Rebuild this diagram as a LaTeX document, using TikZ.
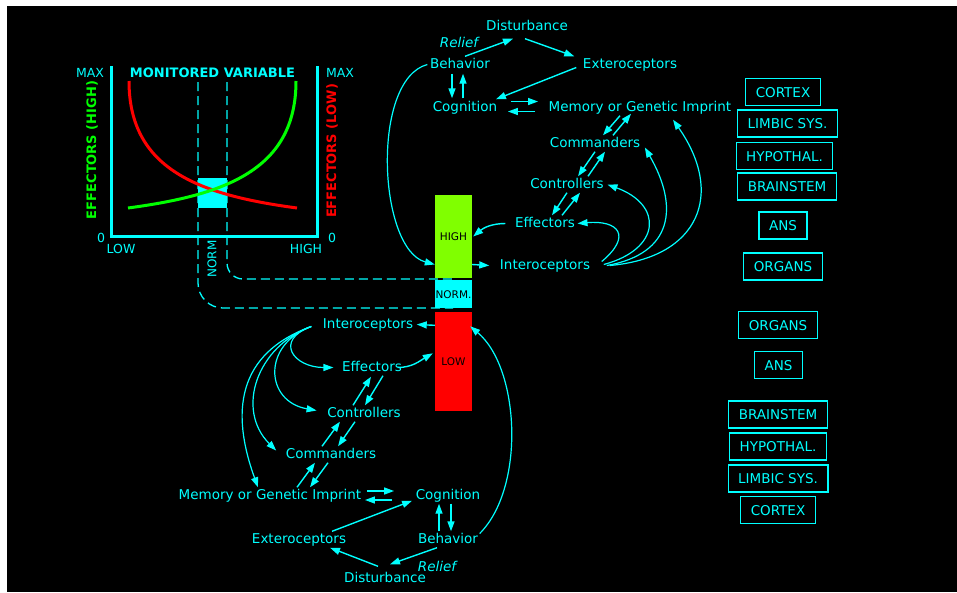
\documentclass[tikz,border=0pt]{standalone}
\usepackage{fontspec}
\setmainfont{DejaVu Sans}
\usepackage{tikz}
\usetikzlibrary{arrows.meta,positioning}
\definecolor{scrcyan}{HTML}{00FFFF}
\definecolor{effgreen}{HTML}{00FF00}
\definecolor{effred}{HTML}{FF0000}
\definecolor{hiband}{HTML}{80FF00}
\newcommand{\lblfont}{\fontsize{13.5}{16}\selectfont}
\newcommand{\barfont}{\fontsize{10.5}{12}\selectfont}
\tikzset{
  lbl/.style     = {text=scrcyan,font=\lblfont,anchor=base,inner sep=1.5pt,
                     text height=10pt,text depth=3pt},
  relief/.style  = {lbl,font=\lblfont\itshape},
  axlbl/.style   = {text=scrcyan,font=\fontsize{12.5}{14}\selectfont,anchor=base,
                     inner sep=1pt},
  sideway/.style = {rotate=90,font=\bfseries\fontsize{13}{15}\selectfont,inner sep=1pt},
  sysbox/.style  = {draw=scrcyan,line width=1.2pt,text=scrcyan,font=\lblfont,
                     inner xsep=10pt,minimum height=27pt,text height=10pt,
                     text depth=0pt},
  band/.style    = {minimum width=37pt,inner sep=0pt,font=\barfont,text=black},
  link/.style    = {-{Triangle[length=10pt,width=7pt]},draw=scrcyan,line width=1.4pt},
  feed/.style    = {link,line width=1.2pt},
  frameax/.style = {draw=scrcyan,line width=3pt},
  guide/.style   = {draw=scrcyan,line width=1.3pt,dash pattern=on 9pt off 5pt},
  trace/.style   = {line width=3pt},
}

\begin{document}
\begin{tikzpicture}[x=1pt,y=-1pt]
  \useasboundingbox (0,0) rectangle (957,592);
  \fill[white] (0,0) rectangle (957,592);
  \fill[black] (7,6) rectangle (957,592);

  % monitored variable chart
  \draw[guide,rounded corners=16pt] (227,82) |- (453,279);
  \draw[guide,rounded corners=25pt] (198,82) |- (453,308);
  \node[fill=scrcyan,minimum width=29pt,minimum height=30pt,inner sep=0pt]
        (normbox) at (212.5,193) {};
  \draw[trace,effred] (129,81) .. controls (129,170) and (200,195) .. (297,208);
  \draw[trace,effgreen] (128,208) .. controls (225,195) and (296,170) .. (296,81);
  \draw[frameax] (111,66) -- (111,236) -- (317,236) -- (317,66);
  \node[axlbl] (maxl) at (90,77) {MAX};
  \node[axlbl] (maxr) at (340,77) {MAX};
  \node[text=scrcyan,font=\bfseries\fontsize{13}{15}\selectfont,anchor=base]
        (title) at (212.5,77) {MONITORED VARIABLE};
  \node[axlbl] (zerol) at (101,242) {0};
  \node[axlbl] (zeror) at (332,242) {0};
  \node[axlbl] (lowl) at (121,253) {LOW};
  \node[axlbl] (highl) at (306,253) {HIGH};
  \node[sideway,text=effgreen] (effhi) at (92,150) {EFFECTORS (HIGH)};
  \node[sideway,text=effred] (efflo) at (332,151) {EFFECTORS (LOW)};
  \node[rotate=90,text=scrcyan,font=\fontsize{12}{14}\selectfont,inner sep=1pt]
        (norml) at (212,259) {NORM};

  % level bar
  \node[band,fill=hiband,minimum height=83pt] (barhi) at (453.5,236.5) {HIGH};
  \node[band,fill=scrcyan,minimum height=28pt,below=2pt of barhi] (barnorm) {NORM.};
  \node[band,fill=effred,minimum height=99pt,below=3pt of barnorm] (barlo) {LOW};

  % upper loop
  \node[lbl] (dist) at (527,30) {Disturbance};
  \node[relief] (relief) at (459,47) {Relief};
  \node[lbl] (beh) at (460,68) {Behavior};
  \node[lbl] (ext) at (630,68) {Exteroceptors};
  \node[lbl] (cog) at (465,111) {Cognition};
  \node[lbl] (mem) at (640,111) {Memory or Genetic Imprint};
  \node[lbl] (cmd) at (595,147) {Commanders};
  \node[lbl] (ctl) at (567,188) {Controllers};
  \node[lbl] (eff) at (545,227) {Effectors};
  \node[lbl] (intr) at (545,269) {Interoceptors};

  \draw[link] ([xshift=5]beh.north) -- ([xshift=-14,yshift=-4]dist.south);
  \draw[link] ([xshift=-2,yshift=-4]dist.south) -- ([xshift=-7]ext.north west);
  \draw[link] ([xshift=-5,yshift=-3]ext.west) -- ([xshift=-3]cog.north east);
  \draw[link] ([xshift=-8,yshift=-1]beh.south) -- ([xshift=-13,yshift=1]cog.north);
  \draw[link] ([xshift=-2,yshift=1]cog.north) -- ([xshift=3,yshift=-1]beh.south);
  \draw[link] ([xshift=12,yshift=6]cog.east) -- ([xshift=-9,yshift=6]mem.west);
  \draw[link] ([xshift=-12,yshift=-4]mem.west) -- ([xshift=9,yshift=-4]cog.east);
  \draw[link] ([xshift=-20]mem.south) -- ([xshift=8]cmd.north);
  \draw[link] ([xshift=18]cmd.north) -- ([xshift=-9,yshift=2]mem.south);
  \draw[link] (cmd.south) -- ([xshift=11]ctl.north);
  \draw[link] ([xshift=21]ctl.north) -- ([xshift=10]cmd.south);
  \draw[link] (ctl.south) -- ([xshift=7]eff.north);
  \draw[link] ([xshift=17]eff.north) -- ([xshift=13]ctl.south);
  \draw[link] ([xshift=-8]eff.west) to[out=180,in=40] ([xshift=1]barhi.east);
  \draw[link] ([yshift=-28]barhi.east) -- ([xshift=-9]intr.west);
  \draw[feed] ([xshift=10,yshift=4]intr.east) to[out=40,in=5,looseness=2.3]
        ([xshift=1]eff.east);
  \draw[feed] ([xshift=12,yshift=1]intr.east) to[out=15,in=-20,looseness=1.9]
        ([xshift=2]ctl.east);
  \draw[feed] ([xshift=15]intr.east) to[out=10,in=-60,looseness=1.4]
        ([xshift=3,yshift=-4]cmd.east);
  \draw[feed] ([xshift=18]intr.east) to[out=5,in=-55,looseness=1.45]
        ([xshift=33,yshift=-4]mem.south);
  \draw[feed] ([xshift=-1]beh.west) to[out=195,in=165,looseness=0.75]
        ([yshift=-28]barhi.west);

  % lower loop
  \node[lbl] (intrl) at (368,328) {Interoceptors};
  \node[lbl] (effl) at (372,371) {Effectors};
  \node[lbl] (ctll) at (364,417) {Controllers};
  \node[lbl] (cmdl) at (331,458) {Commanders};
  \node[lbl] (meml) at (270,499) {Memory or Genetic Imprint};
  \node[lbl] (cogl) at (448,499) {Cognition};
  \node[lbl] (extl) at (299,543) {Exteroceptors};
  \node[lbl] (behl) at (448,543) {Behavior};
  \node[lbl] (distl) at (385,582) {Disturbance};
  \node[relief] (reliefl) at (437,571) {Relief};

  \draw[link] ([yshift=36]barlo.west) -- ([xshift=2]intrl.east);
  \draw[link] ([xshift=-6]effl.east) to[out=0,in=210] ([xshift=-2,yshift=8]barlo.west);
  \draw[feed] ([xshift=-10,yshift=-2]intrl.west) to[out=200,in=180,looseness=2.2]
        ([xshift=-7]effl.west);
  \draw[feed] ([xshift=-10,yshift=-2]intrl.west) to[out=200,in=170,looseness=1.6]
        ([xshift=-9,yshift=3]ctll.west);
  \draw[feed] ([xshift=-10,yshift=-2]intrl.west) to[out=200,in=135,looseness=1.15]
        ([xshift=-8,yshift=4]cmdl.west);
  \draw[feed] ([xshift=-10,yshift=-2]intrl.west) to[out=200,in=110,looseness=1.2]
        ([xshift=-12]meml.north);
  \draw[link] ([xshift=-11]ctll.north) -- ([xshift=-1,yshift=-1]effl.south);
  \draw[link] ([xshift=11]effl.south) -- ([xshift=1]ctll.north);
  \draw[link] ([xshift=-9]cmdl.north) -- ([xshift=-24]ctll.south);
  \draw[link] ([xshift=-9]ctll.south) -- ([xshift=7]cmdl.north);
  \draw[link] ([xshift=27]meml.north) -- ([xshift=-16]cmdl.south);
  \draw[link] ([xshift=-3]cmdl.south) -- ([xshift=40]meml.north);
  \draw[link] ([xshift=4,yshift=4.5]meml.east) -- ([xshift=-20,yshift=4.5]cogl.west);
  \draw[link] ([xshift=-22,yshift=-4.5]cogl.west) -- ([xshift=2,yshift=-4.5]meml.east);
  \draw[link] ([xshift=33]extl.north) -- ([xshift=-2,yshift=3]cogl.south west);
  \draw[link] ([xshift=-9]behl.north) -- ([xshift=-9]cogl.south);
  \draw[link] ([xshift=3]cogl.south) -- ([xshift=3]behl.north);
  \draw[link] ([xshift=-11]behl.south) -- ([xshift=5,yshift=6]distl.north);
  \draw[link] ([xshift=-7,yshift=4]distl.north) -- ([xshift=31]extl.south);
  \draw[feed] ([yshift=6]behl.east) to[out=45,in=-40,looseness=0.8]
        ([xshift=-2,yshift=35]barlo.east);

  % brain levels
  \node[sysbox] (cortexa) at (783,92) {CORTEX};
  \node[sysbox] (limbica) at (787.5,123.5) {LIMBIC SYS.};
  \node[sysbox] (hypoa) at (784.5,156) {HYPOTHAL.};
  \node[sysbox] (stema) at (787,186.5) {BRAINSTEM};
  \node[sysbox] (ansa) at (783,225.5) {ANS};
  \node[sysbox] (organa) at (783,266.5) {ORGANS};
  \node[sysbox] (organb) at (778,325) {ORGANS};
  \node[sysbox] (ansb) at (778.5,365) {ANS};
  \node[sysbox] (stemb) at (778,414.5) {BRAINSTEM};
  \node[sysbox] (hypob) at (778,446.5) {HYPOTHAL.};
  \node[sysbox] (limbicb) at (778,478.5) {LIMBIC SYS.};
  \node[sysbox] (cortexb) at (778,510) {CORTEX};
\end{tikzpicture}
\end{document}
